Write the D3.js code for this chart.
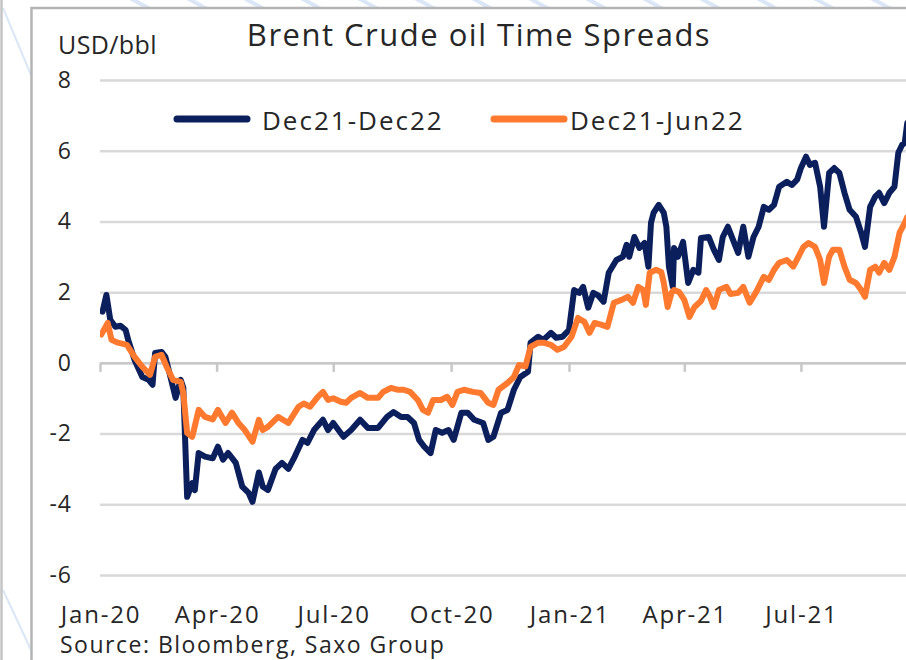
<!DOCTYPE html>
<html>
<head>
<meta charset="utf-8">
<script src="https://cdn.jsdelivr.net/npm/d3@7"></script>
<style>
  body { margin: 0; background: #fff; }
  text { font-family: "Open Sans", sans-serif; fill: #262626; }
</style>
</head>
<body>
<div id="chart"></div>
<script>
// chart texts
const title = "Brent Crude oil Time Spreads";
const unitLabel = "USD/bbl";
const sourceNote = "Source: Bloomberg, Saxo Group";
const yTicks = [-6, -4, -2, 0, 2, 4, 6, 8];
const seriesNames = ["Dec21-Dec22", "Dec21-Jun22"];
const seriesColors = ["#0b1f5c", "#ff7a2e"];

// Dec21-Dec22 spread, USD/bbl
const dec21Dec22 = [
    ["2020-01-03", 1.45], ["2020-01-06", 1.92], ["2020-01-09", 1.22], ["2020-01-13", 1.02],
    ["2020-01-17", 1.05], ["2020-01-21", 0.93], ["2020-01-23", 0.65], ["2020-01-28", 0.08],
    ["2020-02-03", -0.40], ["2020-02-08", -0.48], ["2020-02-11", -0.62], ["2020-02-13", 0.28],
    ["2020-02-18", 0.31], ["2020-02-21", 0.17], ["2020-02-25", -0.40], ["2020-02-29", -0.99],
    ["2020-03-04", -0.48], ["2020-03-06", -0.70], ["2020-03-09", -3.79], ["2020-03-13", -3.40],
    ["2020-03-15", -3.60], ["2020-03-18", -2.55], ["2020-03-23", -2.65], ["2020-03-29", -2.70],
    ["2020-04-02", -2.37], ["2020-04-06", -2.74], ["2020-04-10", -2.55], ["2020-04-16", -2.83],
    ["2020-04-21", -3.50], ["2020-04-26", -3.68], ["2020-04-29", -3.93], ["2020-05-04", -3.10],
    ["2020-05-07", -3.50], ["2020-05-11", -3.60], ["2020-05-17", -3.00], ["2020-05-22", -2.83],
    ["2020-05-27", -3.00], ["2020-06-01", -2.65], ["2020-06-07", -2.18], ["2020-06-11", -2.26],
    ["2020-06-16", -1.90], ["2020-06-23", -1.61], ["2020-06-27", -1.90], ["2020-07-01", -1.70],
    ["2020-07-09", -2.09], ["2020-07-15", -1.90], ["2020-07-22", -1.61], ["2020-07-28", -1.84],
    ["2020-08-05", -1.84], ["2020-08-12", -1.53], ["2020-08-17", -1.39], ["2020-08-23", -1.53],
    ["2020-08-28", -1.53], ["2020-09-02", -1.70], ["2020-09-06", -2.18], ["2020-09-10", -2.37],
    ["2020-09-15", -2.55], ["2020-09-19", -1.90], ["2020-09-24", -1.98], ["2020-09-29", -1.90],
    ["2020-10-03", -2.18], ["2020-10-09", -1.41], ["2020-10-14", -1.41], ["2020-10-19", -1.61],
    ["2020-10-26", -1.70], ["2020-10-30", -2.18], ["2020-11-03", -2.09], ["2020-11-09", -1.41],
    ["2020-11-14", -1.33], ["2020-11-19", -0.76], ["2020-11-24", -0.40], ["2020-11-30", -0.25],
    ["2020-12-02", 0.57], ["2020-12-08", 0.74], ["2020-12-12", 0.65], ["2020-12-18", 0.85],
    ["2020-12-22", 0.71], ["2020-12-27", 0.74], ["2021-01-01", 0.93], ["2021-01-05", 2.06],
    ["2021-01-09", 1.98], ["2021-01-12", 2.15], ["2021-01-16", 1.56], ["2021-01-20", 1.98],
    ["2021-01-24", 1.90], ["2021-01-28", 1.73], ["2021-02-01", 2.55], ["2021-02-07", 2.91],
    ["2021-02-12", 3.00], ["2021-02-15", 3.34], ["2021-02-17", 3.00], ["2021-02-21", 3.56],
    ["2021-02-25", 3.25], ["2021-03-01", 3.39], ["2021-03-04", 2.72], ["2021-03-06", 3.96],
    ["2021-03-08", 4.24], ["2021-03-12", 4.47], ["2021-03-16", 4.24], ["2021-03-18", 3.85],
    ["2021-03-20", 2.72], ["2021-03-23", 2.15], ["2021-03-24", 3.25], ["2021-03-27", 3.00],
    ["2021-03-31", 3.42], ["2021-04-04", 2.26], ["2021-04-08", 2.63], ["2021-04-12", 2.55],
    ["2021-04-14", 3.53], ["2021-04-20", 3.56], ["2021-04-24", 3.20], ["2021-04-28", 2.91],
    ["2021-05-01", 3.56], ["2021-05-05", 3.85], ["2021-05-09", 3.48], ["2021-05-13", 3.11],
    ["2021-05-17", 3.85], ["2021-05-21", 3.00], ["2021-05-25", 3.56], ["2021-05-29", 3.85],
    ["2021-06-02", 4.41], ["2021-06-06", 4.33], ["2021-06-10", 4.47], ["2021-06-14", 4.98],
    ["2021-06-20", 5.12], ["2021-06-24", 5.03], ["2021-06-28", 5.18], ["2021-07-01", 5.51],
    ["2021-07-05", 5.83], ["2021-07-08", 5.60], ["2021-07-12", 5.66], ["2021-07-16", 4.98],
    ["2021-07-19", 3.85], ["2021-07-23", 5.37], ["2021-07-27", 5.51], ["2021-07-31", 5.37],
    ["2021-08-04", 4.81], ["2021-08-08", 4.33], ["2021-08-13", 4.13], ["2021-08-17", 3.68],
    ["2021-08-20", 3.28], ["2021-08-24", 4.41], ["2021-08-28", 4.70], ["2021-08-31", 4.81],
    ["2021-09-04", 4.52], ["2021-09-08", 4.81], ["2021-09-12", 4.98], ["2021-09-15", 5.94],
    ["2021-09-18", 6.17], ["2021-09-20", 6.22], ["2021-09-22", 6.79], ["2021-09-26", 6.90]
];

// Dec21-Jun22 spread, USD/bbl
const dec21Jun22 = [
    ["2020-01-02", 0.80], ["2020-01-07", 1.13], ["2020-01-10", 0.65], ["2020-01-15", 0.57],
    ["2020-01-22", 0.51], ["2020-01-28", 0.17], ["2020-02-03", -0.11], ["2020-02-09", -0.34],
    ["2020-02-13", 0.17], ["2020-02-18", 0.23], ["2020-02-22", -0.11], ["2020-02-27", -0.48],
    ["2020-03-04", -0.54], ["2020-03-06", -0.85], ["2020-03-09", -1.98], ["2020-03-13", -2.09],
    ["2020-03-18", -1.33], ["2020-03-23", -1.53], ["2020-03-29", -1.60], ["2020-04-02", -1.33],
    ["2020-04-08", -1.70], ["2020-04-13", -1.41], ["2020-04-18", -1.70], ["2020-04-23", -1.90],
    ["2020-04-29", -2.23], ["2020-05-04", -1.61], ["2020-05-07", -1.90], ["2020-05-11", -1.81],
    ["2020-05-19", -1.53], ["2020-05-27", -1.70], ["2020-06-04", -1.24], ["2020-06-08", -1.15],
    ["2020-06-13", -1.24], ["2020-06-19", -0.96], ["2020-06-23", -0.82], ["2020-06-27", -1.05],
    ["2020-07-01", -1.00], ["2020-07-07", -1.10], ["2020-07-11", -1.13], ["2020-07-15", -0.99],
    ["2020-07-22", -0.85], ["2020-07-28", -0.99], ["2020-08-05", -0.99], ["2020-08-09", -0.82],
    ["2020-08-15", -0.71], ["2020-08-20", -0.76], ["2020-08-25", -0.76], ["2020-08-30", -0.82],
    ["2020-09-05", -1.05], ["2020-09-09", -1.33], ["2020-09-13", -1.41], ["2020-09-17", -1.05],
    ["2020-09-23", -1.05], ["2020-09-28", -0.96], ["2020-10-02", -1.19], ["2020-10-06", -0.82],
    ["2020-10-11", -0.76], ["2020-10-18", -0.82], ["2020-10-24", -0.85], ["2020-10-30", -1.13],
    ["2020-11-03", -1.19], ["2020-11-07", -0.76], ["2020-11-14", -0.57], ["2020-11-19", -0.40],
    ["2020-11-23", -0.06], ["2020-11-28", -0.10], ["2020-12-02", 0.45], ["2020-12-08", 0.57],
    ["2020-12-12", 0.57], ["2020-12-18", 0.51], ["2020-12-23", 0.37], ["2020-12-28", 0.45],
    ["2021-01-03", 0.74], ["2021-01-08", 1.27], ["2021-01-13", 1.16], ["2021-01-17", 0.85],
    ["2021-01-21", 1.13], ["2021-01-26", 1.08], ["2021-01-31", 1.02], ["2021-02-05", 1.70],
    ["2021-02-11", 1.78], ["2021-02-16", 1.87], ["2021-02-20", 1.70], ["2021-02-24", 2.15],
    ["2021-02-28", 2.06], ["2021-03-02", 1.64], ["2021-03-05", 2.55], ["2021-03-10", 2.63],
    ["2021-03-14", 2.57], ["2021-03-16", 2.26], ["2021-03-19", 1.58], ["2021-03-22", 1.98],
    ["2021-03-24", 2.06], ["2021-03-28", 2.00], ["2021-04-01", 1.78], ["2021-04-05", 1.30],
    ["2021-04-09", 1.58], ["2021-04-14", 1.75], ["2021-04-18", 2.06], ["2021-04-21", 1.87],
    ["2021-04-24", 1.58], ["2021-04-28", 2.06], ["2021-05-04", 2.15], ["2021-05-07", 1.95],
    ["2021-05-13", 1.98], ["2021-05-17", 2.15], ["2021-05-22", 1.70], ["2021-05-27", 2.00],
    ["2021-06-02", 2.43], ["2021-06-06", 2.35], ["2021-06-10", 2.63], ["2021-06-14", 2.83],
    ["2021-06-20", 2.91], ["2021-06-25", 2.72], ["2021-06-29", 3.00], ["2021-07-03", 3.28],
    ["2021-07-07", 3.39], ["2021-07-12", 3.28], ["2021-07-16", 2.91], ["2021-07-19", 2.26],
    ["2021-07-23", 3.00], ["2021-07-26", 3.20], ["2021-07-31", 3.20], ["2021-08-04", 2.72],
    ["2021-08-08", 2.35], ["2021-08-13", 2.26], ["2021-08-17", 2.06], ["2021-08-20", 1.87],
    ["2021-08-24", 2.63], ["2021-08-28", 2.72], ["2021-08-31", 2.55], ["2021-09-04", 2.83],
    ["2021-09-08", 2.63], ["2021-09-12", 3.00], ["2021-09-16", 3.68], ["2021-09-20", 3.96],
    ["2021-09-22", 4.13], ["2021-09-26", 4.20]
];

const parseDate = d3.timeParse("%Y-%m-%d");
const series = [dec21Dec22, dec21Jun22].map((rows, i) => ({
    name: seriesNames[i],
    color: seriesColors[i],
    values: rows.map(r => ({date: parseDate(r[0]), value: r[1]}))
}));

const width = 906, height = 660;
const plot = {left: 100, right: 906, top: 80, bottom: 575};

const svg = d3.select("#chart").append("svg")
    .attr("width", width)
    .attr("height", height);

// page decoration: faint diagonal stripes behind the frame
const deco = svg.append("g");
d3.range(130, 920, 57).forEach(x0 => {
    deco.append("line")
        .attr("x1", x0).attr("y1", -2)
        .attr("x2", x0 + 20).attr("y2", 9)
        .attr("stroke", "#dbe7f6").attr("stroke-width", 4);
});
deco.append("line").attr("x1", 3).attr("y1", 8).attr("x2", 31).attr("y2", 75)
    .attr("stroke", "#dbe7f6").attr("stroke-width", 2);
deco.append("line").attr("x1", 3).attr("y1", 590).attr("x2", 31).attr("y2", 650)
    .attr("stroke", "#dbe7f6").attr("stroke-width", 2);

// frame
svg.append("rect")
    .attr("x", 31.5).attr("y", 8)
    .attr("width", 900).attr("height", 700)
    .attr("fill", "#fff")
    .attr("stroke", "#b4b4b4")
    .attr("stroke-width", 2.5);
svg.append("line")
    .attr("x1", 1.5).attr("y1", 0).attr("x2", 1.5).attr("y2", height)
    .attr("stroke", "#c4c4c4").attr("stroke-width", 2.5);

// scales
const x = d3.scaleTime()
    .domain([new Date(2020, 0, 1), new Date(2021, 8, 21)])
    .range([plot.left, plot.right]);

const y = d3.scaleLinear()
    .domain([-6, 8])
    .range([plot.bottom, plot.top]);

// gridlines + y labels
const yAxis = d3.axisLeft(y)
    .tickValues(yTicks)
    .tickSize(-(plot.right - plot.left))
    .tickPadding(28)
    .tickFormat(d => String(d));

const yAxisGroup = svg.append("g")
    .attr("transform", `translate(${plot.left},0)`)
    .call(yAxis);
yAxisGroup.select(".domain").remove();
yAxisGroup.selectAll(".tick line")
    .attr("stroke", "#d9d9d9")
    .attr("stroke-width", 2.5);
yAxisGroup.selectAll(".tick text")
    .attr("font-size", 23)
    .attr("font-family", "Open Sans")
    .attr("letter-spacing", 1)
    .attr("fill", "#262626");

// zero axis with quarter ticks
const xTickDates = x.ticks(d3.timeMonth.every(3));
const xAxis = d3.axisBottom(x)
    .tickValues(xTickDates)
    .tickSize(9)
    .tickSizeOuter(0)
    .tickFormat("");
const xAxisGroup = svg.append("g")
    .attr("transform", `translate(0,${y(0)})`)
    .call(xAxis);
xAxisGroup.select(".domain").attr("stroke", "#c8c8c8").attr("stroke-width", 2.5);
xAxisGroup.selectAll(".tick line").attr("stroke", "#c8c8c8").attr("stroke-width", 2.5);

// x labels sit at the bottom of the chart
svg.append("g").selectAll("text")
    .data(xTickDates)
    .enter().append("text")
    .attr("x", d => x(d) + 1)
    .attr("y", 623)
    .attr("text-anchor", "middle")
    .attr("font-size", 24)
    .attr("letter-spacing", 1.8)
    .text(d3.timeFormat("%b-%y"));

// lines
svg.append("clipPath").attr("id", "plotClip")
    .append("rect")
    .attr("x", plot.left).attr("y", 0)
    .attr("width", plot.right - plot.left).attr("height", height);

const line = d3.line()
    .x(d => x(d.date))
    .y(d => y(d.value));

svg.append("g")
    .attr("clip-path", "url(#plotClip)")
    .selectAll("path")
    .data(series)
    .enter().append("path")
    .attr("d", d => line(d.values))
    .attr("fill", "none")
    .attr("stroke", d => d.color)
    .attr("stroke-width", 6)
    .attr("stroke-linejoin", "round")
    .attr("stroke-linecap", "round");

// legend
const legendPos = [177, 494];
const legend = svg.append("g").selectAll("g")
    .data(series)
    .enter().append("g")
    .attr("transform", (d, i) => `translate(${legendPos[i]},119)`);
legend.append("line")
    .attr("x1", 0).attr("x2", 70)
    .attr("stroke", d => d.color)
    .attr("stroke-width", 7)
    .attr("stroke-linecap", "round");
legend.append("text")
    .attr("x", (d, i) => i === 0 ? 85 : 76)
    .attr("y", 11)
    .attr("font-size", 26)
    .attr("letter-spacing", 2)
    .text(d => d.name);

// titles and notes
svg.append("text")
    .attr("x", 479).attr("y", 46)
    .attr("text-anchor", "middle")
    .attr("font-size", 31)
    .attr("letter-spacing", 1.5)
    .text(title);

svg.append("text")
    .attr("x", 58).attr("y", 54)
    .attr("font-size", 25)
    .attr("letter-spacing", 0.4)
    .text(unitLabel);

svg.append("text")
    .attr("x", 60).attr("y", 653)
    .attr("font-size", 23)
    .attr("letter-spacing", 1.5)
    .text(sourceNote);
</script>
</body>
</html>
